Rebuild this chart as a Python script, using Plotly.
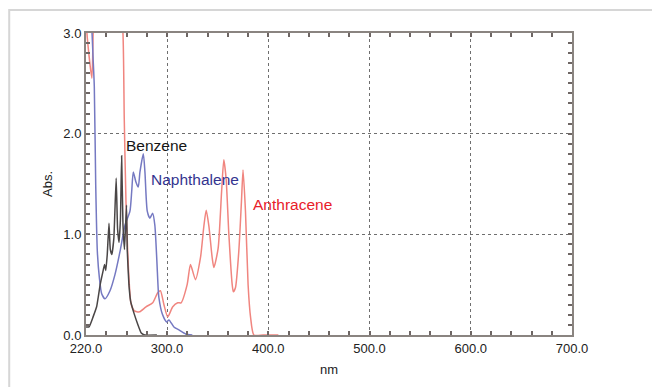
import plotly.graph_objects as go

# ---- data ----
benzene_nm = [220, 223, 227, 230.5, 232, 234, 236.5, 238.3, 239.5, 241, 242.7, 244, 245.5, 247.5,
              249.8, 251.2, 252.6, 254, 255.2, 256.5, 258, 260, 260.8, 262.4, 264, 265.5, 267.6,
              271, 274.6, 278, 290]
benzene_abs = [0.08, 0.08, 0.18, 0.28, 0.37, 0.50, 0.62, 0.70, 0.64, 0.80, 1.11, 0.85, 0.80, 0.96,
               1.56, 1.05, 0.92, 1.15, 1.78, 1.10, 0.85, 1.29, 0.83, 0.50, 0.34, 0.28, 0.21,
               0.11, 0.02, 0.0, 0.0]

naph_nm = [222, 225.5, 227, 228.2, 229.6, 231.2, 233.2, 235.5, 238.7, 243.7, 248.6, 253.6, 258.5,
           263.4, 265.1, 266.7, 269.3, 271.6, 273.3, 276.6, 278.2, 280.5, 283.1, 285.8, 288,
           291.4, 292, 295.3, 299.5, 301.9, 306.8, 311.8, 316.6, 318.4, 325]
naph_abs = [3.6, 3.1, 2.75, 2.47, 1.49, 0.83, 0.57, 0.41, 0.36, 0.44, 0.60, 0.83, 1.09,
            1.23, 1.42, 1.62, 1.52, 1.47, 1.62, 1.80, 1.62, 1.23, 1.16, 1.21, 1.09,
            0.44, 0.37, 0.21, 0.13, 0.15, 0.08, 0.05, 0.02, 0.01, 0.0]

anth_nm = [219, 221.3, 225.8, 227.2, 230, 252, 256.5, 257.8, 259.5, 261.2, 262.8, 264.5, 267.8,
           272.7, 279.3, 285.9, 290.8, 293.5, 297, 300.7, 305.7, 310.6, 313.9, 319.9, 323.2,
           328.1, 333.1, 336.4, 338.7, 341.4, 344.6, 346.3, 350.5, 353.9, 356.1, 358.4, 361.1,
           364.4, 365.5, 367.6, 370.9, 373.5, 375.1, 377.5, 380.1, 382.5, 385.8, 395, 410]
anth_abs = [3.3, 2.95, 2.55, 3.05, 3.6, 3.6, 3.0, 2.14, 1.32, 0.83, 0.50, 0.31, 0.24,
            0.23, 0.28, 0.32, 0.42, 0.44, 0.30, 0.18, 0.28, 0.32, 0.32, 0.50, 0.70,
            0.55, 0.77, 1.08, 1.24, 1.08, 0.77, 0.67, 0.86, 1.42, 1.74, 1.55, 1.00,
            0.50, 0.43, 0.47, 0.83, 1.32, 1.64, 1.23, 0.50, 0.18, 0.0, 0.0, 0.0]

x_tickvals = [220, 300, 400, 500, 600, 700]
x_ticktext = ["220.0", "300.0", "400.0", "500.0", "600.0", "700.0"]
y_tickvals = [0, 1, 2, 3]
y_ticktext = ["0.0", "1.0", "2.0", "3.0"]

labels = ["Benzene", "Naphthalene", "Anthracene"]
label_x = [257.5, 282, 383]
label_y = [1.88, 1.54, 1.30]
label_colors = ["#151515", "#34348f", "#e8202a"]

FONT = "Liberation Sans, Arial, sans-serif"

fig = go.Figure()
fig.add_trace(go.Scatter(x=anth_nm, y=anth_abs, mode="lines",
                         line=dict(color="#f0857f", width=1.5, shape="spline", smoothing=0.6),
                         showlegend=False))
fig.add_trace(go.Scatter(x=naph_nm, y=naph_abs, mode="lines",
                         line=dict(color="#7579c2", width=1.5, shape="spline", smoothing=0.6),
                         showlegend=False))
fig.add_trace(go.Scatter(x=benzene_nm, y=benzene_abs, mode="lines",
                         line=dict(color="#4a4646", width=1.5, shape="spline", smoothing=0.4),
                         showlegend=False))

for t, xx, yy, c in zip(labels, label_x, label_y, label_colors):
    fig.add_annotation(x=xx, y=yy, text=t, showarrow=False, xanchor="left", yanchor="middle",
                       font=dict(family=FONT, size=15.5, color=c))

axis_common = dict(
    showline=True, linecolor="#8a8480", linewidth=2, mirror="allticks",
    ticks="inside", ticklen=4, tickwidth=1.5, tickcolor="#6e6664",
    showgrid=True, gridcolor="#6f6f6f", gridwidth=1, griddash="dot",
    zeroline=False, tickfont=dict(family=FONT, size=13, color="#222"),
)

fig.update_xaxes(range=[220, 700], tickvals=x_tickvals, ticktext=x_ticktext,
                 minor=dict(dtick=20, tick0=220, ticks="inside", ticklen=4, tickcolor="#6e6664",
                            showgrid=False),
                 title=dict(text="nm", font=dict(family=FONT, size=13, color="#222"), standoff=10),
                 **axis_common)
fig.update_yaxes(range=[0, 3], tickvals=y_tickvals, ticktext=y_ticktext,
                 minor=dict(dtick=0.1, tick0=0, ticks="inside", ticklen=4, tickcolor="#6e6664",
                            showgrid=False),
                 title=dict(text="Abs.", font=dict(family=FONT, size=13, color="#222"), standoff=8),
                 **axis_common)

# outer light frame
fig.add_shape(type="rect", xref="paper", yref="paper", x0=-0.158, x1=1.4, y0=-0.4, y1=1.076,
              line=dict(color="#d6d6d6", width=2), fillcolor="rgba(0,0,0,0)", layer="below")

fig.update_layout(width=652, height=387, margin=dict(l=86, r=80, t=33, b=49),
                  plot_bgcolor="white", paper_bgcolor="white", showlegend=False)

fig.write_html("out.html")
